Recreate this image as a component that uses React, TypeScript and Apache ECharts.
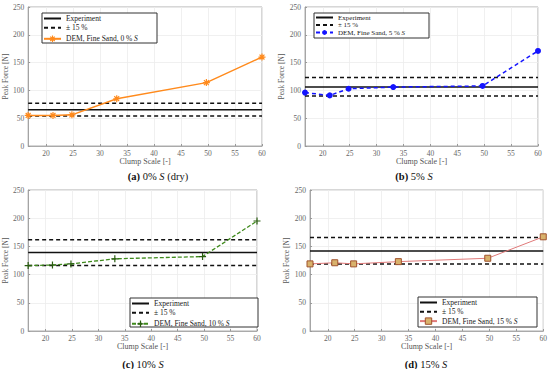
import React, { useEffect, useRef } from "react";
import * as echarts from "echarts";

const clumpScale = [16.7, 21.3, 24.8, 33.1, 49.7, 60];
const xTicks = [20, 25, 30, 35, 40, 45, 50, 55, 60];
const xMin = 16.7;
const xMax = 60;

const dem0 = [55, 55, 56, 85, 114, 160];
const dem5 = [96, 91, 103, 106, 108, 171];
const dem10 = [116, 117, 119, 128, 132, 195];
const dem15 = [119, 121, 119, 123, 129, 167];

const experiment = [65, 106, 139, 142];
const bandLow = [54, 90, 116, 119];
const bandHigh = [77, 123, 162, 166];

const demNames = [
  "DEM, Fine Sand, 0 % S",
  "DEM, Fine Sand, 5 % S",
  "DEM, Fine Sand, 10 % S",
  "DEM, Fine Sand, 15 % S",
];
const captions = [
  ["(a)", " 0% ", "S", " (dry)"],
  ["(b)", " 5% ", "S", ""],
  ["(c)", " 10% ", "S", ""],
  ["(d)", " 15% ", "S", ""],
];

const FONT = "'Liberation Serif', 'DejaVu Serif', serif";

const grids = [
  { left: 28, top: 7, width: 234, height: 139 },
  { left: 305, top: 7, width: 233, height: 139 },
  { left: 25, top: 190, width: 232, height: 141 },
  { left: 310, top: 190, width: 234, height: 141 },
];
const legendBoxes = [
  { x: 42, y: 13, w: 115, h: 30 },
  { x: 314, y: 13, w: 115, h: 25 },
  { x: 130, y: 298, w: 128, h: 29 },
  { x: 418, y: 297, w: 119, h: 30 },
];
const captionPos = [
  { x: 158, y: 176 },
  { x: 414, y: 176 },
  { x: 143, y: 364 },
  { x: 426, y: 364 },
];

const asterisk = "path://M0,5L10,5M5,0L5,10M1.5,1.5L8.5,8.5M8.5,1.5L1.5,8.5";
const plus = "path://M0,5L10,5M5,0L5,10";

export default function App() {
  const ref = useRef<HTMLDivElement>(null);
  useEffect(() => {
    if (!ref.current) return;
    const chart = echarts.init(ref.current, null, { renderer: "svg" });
    const demData = [dem0, dem5, dem10, dem15];
    const demStyles: any[] = [
      {
        color: "#ff8a1c",
        lineStyle: { color: "#ff8a1c", width: 1.5, type: "solid" },
        symbol: asterisk,
        symbolSize: 7,
        itemStyle: { color: "none", borderColor: "#ff8a1c", borderWidth: 1.2 },
      },
      {
        color: "#1414ff",
        lineStyle: { color: "#1414ff", width: 1.5, type: [4, 3] },
        symbol: "circle",
        symbolSize: 6,
        itemStyle: { color: "#1414ff" },
      },
      {
        color: "#3f8a1c",
        lineStyle: { color: "#3f8a1c", width: 1.3, type: [4, 2] },
        symbol: plus,
        symbolSize: 7,
        itemStyle: { color: "none", borderColor: "#2a5e10", borderWidth: 1.2 },
      },
      {
        color: "#e07a7a",
        lineStyle: { color: "#e07a7a", width: 1 },
        symbol: "rect",
        symbolSize: 6,
        itemStyle: { color: "#d8b26c", borderColor: "#a0522d", borderWidth: 1 },
      },
    ];

    const xAxes = grids.map((_, i) => ({
      type: "value",
      gridIndex: i,
      min: xMin,
      max: xMax,
      name: "Clump Scale [-]",
      nameLocation: "middle",
      nameGap: 11,
      nameTextStyle: { fontFamily: FONT, fontSize: 8, color: "#555" },
      axisLine: { show: true, lineStyle: { color: "#999", width: 0.8 } },
      axisTick: { show: true, inside: true, length: 2, customValues: xTicks, lineStyle: { color: "#999" } },
      axisLabel: { customValues: xTicks, fontFamily: FONT, fontSize: 7.5, color: "#666", margin: 3 },
      splitLine: { show: true, lineStyle: { color: "#ececec", width: 0.8 } },
    }));
    const yAxes = grids.map((_, i) => ({
      type: "value",
      gridIndex: i,
      min: 0,
      max: 250,
      interval: 50,
      name: "Peak Force [N]",
      nameLocation: "middle",
      nameGap: 17,
      nameTextStyle: { fontFamily: FONT, fontSize: 7.5, color: "#555" },
      axisLine: { show: true, lineStyle: { color: "#999", width: 0.8 } },
      axisTick: { show: true, inside: true, length: 2, lineStyle: { color: "#999" } },
      axisLabel: { fontFamily: FONT, fontSize: 7.5, color: "#666", margin: 4 },
      splitLine: { show: true, lineStyle: { color: "#ececec", width: 0.8 } },
    }));

    const series: any[] = [];
    grids.forEach((_, i) => {
      series.push({
        name: "Experiment",
        type: "line",
        xAxisIndex: i,
        yAxisIndex: i,
        data: [[xMin, experiment[i]], [xMax, experiment[i]]],
        symbol: "none",
        color: "#111",
        lineStyle: { color: "#111", width: 1.5 },
      });
      series.push({
        name: "± 15 %",
        type: "line",
        xAxisIndex: i,
        yAxisIndex: i,
        data: [[xMin, bandLow[i]], [xMax, bandLow[i]]],
        symbol: "none",
        color: "#111",
        lineStyle: { color: "#111", width: 1.5, type: [4, 3] },
      });
      series.push({
        name: "± 15 %",
        type: "line",
        xAxisIndex: i,
        yAxisIndex: i,
        data: [[xMin, bandHigh[i]], [xMax, bandHigh[i]]],
        symbol: "none",
        color: "#111",
        lineStyle: { color: "#111", width: 1.5, type: [4, 3] },
      });
      series.push({
        name: demNames[i],
        type: "line",
        xAxisIndex: i,
        yAxisIndex: i,
        data: clumpScale.map((x, k) => [x, demData[i][k]]),
        z: 5,
        ...demStyles[i],
      });
    });

    const legends = legendBoxes.map((b, i) => ({
      orient: "vertical",
      left: b.x + 1,
      top: b.y + (i === 1 ? 1 : 1.5),
      padding: 0,
      z: 30,
      itemWidth: 17,
      itemHeight: i === 1 ? 6 : 8,
      itemGap: i === 1 ? 0.5 : 1.3,
      data: [
        { name: "Experiment", itemStyle: { opacity: 0 } },
        { name: "± 15 %", itemStyle: { opacity: 0 } },
        { name: demNames[i], itemStyle: { ...demStyles[i].itemStyle } },
      ],
      formatter: (name: string) =>
        name.startsWith("DEM") ? `{n|${name.slice(0, -1)}}{it|S}` : `{n|${name}}`,
      textStyle: {
        fontFamily: FONT,
        fontSize: i === 1 ? 7 : 7.5,
        color: "#222",
        rich: {
          n: { fontFamily: FONT, fontSize: i === 1 ? 7 : 7.5, color: "#222" },
          it: { fontFamily: FONT, fontSize: i === 1 ? 7 : 7.5, color: "#222", fontStyle: "italic" },
        },
      },
      selectedMode: false,
    }));

    const graphics: any[] = [];
    legendBoxes.forEach((b) => {
      graphics.push({
        type: "rect",
        z: 20,
        shape: { x: b.x, y: b.y, width: b.w, height: b.h },
        style: { fill: "#fff", stroke: "#333", lineWidth: 1 },
      });
    });
    captions.forEach((c, i) => {
      graphics.push({
        type: "text",
        x: captionPos[i].x,
        y: captionPos[i].y,
        style: {
          text: `{b|${c[0]}}{r|${c[1]}}{i|${c[2]}}{r|${c[3]}}`,
          textAlign: "center",
          textVerticalAlign: "middle",
          rich: {
            b: { fontFamily: FONT, fontSize: 10.5, fontWeight: "bold", fill: "#111" },
            r: { fontFamily: FONT, fontSize: 10.5, fill: "#111" },
            i: { fontFamily: FONT, fontSize: 10.5, fontStyle: "italic", fill: "#111" },
          },
        },
      });
    });

    chart.setOption({
      animation: false,
      backgroundColor: "#fff",
      grid: grids.map((g) => ({ ...g, show: true, borderColor: "#999", borderWidth: 0.8, containLabel: false })),
      xAxis: xAxes,
      yAxis: yAxes,
      legend: legends,
      series,
      graphic: { elements: graphics },
    });
    return () => chart.dispose();
  }, []);
  return (
    <div
      ref={ref}
      style={{ position: "fixed", left: 0, top: 0, width: 550, height: 369 }}
    />
  );
}
